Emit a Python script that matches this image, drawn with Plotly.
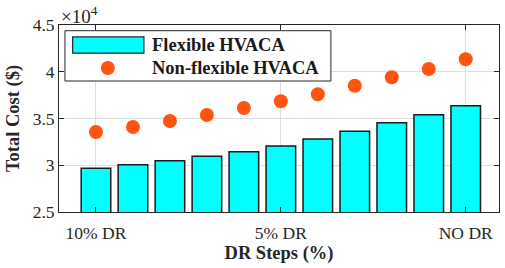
import plotly.graph_objects as go

steps = list(range(1, 12))
flexible = [29670, 30060, 30490, 30960, 31450, 32060, 32810, 33630, 34550, 35410, 36370]
non_flexible = [33560, 34090, 34730, 35370, 36120, 36840, 37590, 38510, 39410, 40290, 41330]
x_tick_vals = [1, 6, 11]
x_tick_text = ["10% DR", "5% DR", "NO DR"]
y_tick_vals = [25000, 30000, 35000, 40000, 45000]
y_tick_text = ["2.5", "3", "3.5", "4", "4.5"]

serif = "Liberation Serif, Times New Roman, serif"
cyan = "#00FFFF"
orange = "#FF5511"

fig = go.Figure()
fig.add_trace(go.Bar(x=steps, y=flexible, width=0.8, name="Flexible HVACA",
                     marker=dict(color=cyan, line=dict(color="#1a1a1a", width=1.5)),
                     showlegend=False))
fig.add_trace(go.Scatter(x=steps, y=non_flexible, mode="markers", name="Non-flexible HVACA",
                         marker=dict(color=orange, size=14, line=dict(width=0)),
                         showlegend=False))

axis_common = dict(showline=True, linecolor="#262626", linewidth=1, mirror="ticks",
                   ticks="inside", ticklen=5, tickcolor="#262626", automargin=False,
                   showgrid=True, gridcolor="#DEDEDE", gridwidth=1, zeroline=False,
                   tickfont=dict(family=serif, size=17.5, color="#262626"))

fig.update_layout(
    width=505, height=268,
    margin=dict(l=59, r=6, t=25, b=56),
    paper_bgcolor="white", plot_bgcolor="white",
    xaxis=dict(range=[0, 11.9], tickvals=x_tick_vals, ticktext=x_tick_text, ticklabelstandoff=5,
               title=dict(text="<b>DR Steps (%)</b>", font=dict(family=serif, size=18.5, color="#262626"), standoff=4),
               **axis_common),
    yaxis=dict(range=[25000, 45000], tickvals=y_tick_vals, ticktext=y_tick_text,
               title=dict(text="<b>Total Cost ($)</b>", font=dict(family=serif, size=18.5, color="#262626"), standoff=8),
               **axis_common),
    bargap=0.2,
)

# multiplier label
fig.add_annotation(xref="paper", yref="paper", x=0.0, y=1.0, xanchor="left", yanchor="bottom",
                   text="×10<sup>4</sup>", showarrow=False, yshift=-4,
                   font=dict(family=serif, size=19, color="#262626"))

# custom legend
fig.add_shape(type="rect", xref="paper", yref="paper", x0=0.0136, x1=0.618, y0=0.7005, y1=0.9695,
              line=dict(color="#262626", width=1), fillcolor="white", layer="above")
fig.add_shape(type="rect", xref="paper", yref="paper", x0=0.031, x1=0.193, y0=0.850, y1=0.936,
              line=dict(color="#262626", width=1.2), fillcolor=cyan, layer="above")
fig.add_shape(type="circle", xref="paper", yref="paper", x0=0.111 - 0.0159, x1=0.111 + 0.0159,
              y0=0.770 - 0.0374, y1=0.770 + 0.0374,
              line=dict(width=0), fillcolor=orange, layer="above")
fig.add_annotation(xref="paper", yref="paper", x=0.2068, y=0.893, xanchor="left", yanchor="middle",
                   text="<b>Flexible HVACA</b>", showarrow=False,
                   font=dict(family=serif, size=18.5, color="#1a1a1a"))
fig.add_annotation(xref="paper", yref="paper", x=0.2068, y=0.770, xanchor="left", yanchor="middle",
                   text="<b>Non-flexible HVACA</b>", showarrow=False,
                   font=dict(family=serif, size=18.5, color="#1a1a1a"))

fig.write_html("out.html", config={"displayModeBar": False},
               post_script="document.body.style.margin='0';document.body.style.overflow='hidden';")
